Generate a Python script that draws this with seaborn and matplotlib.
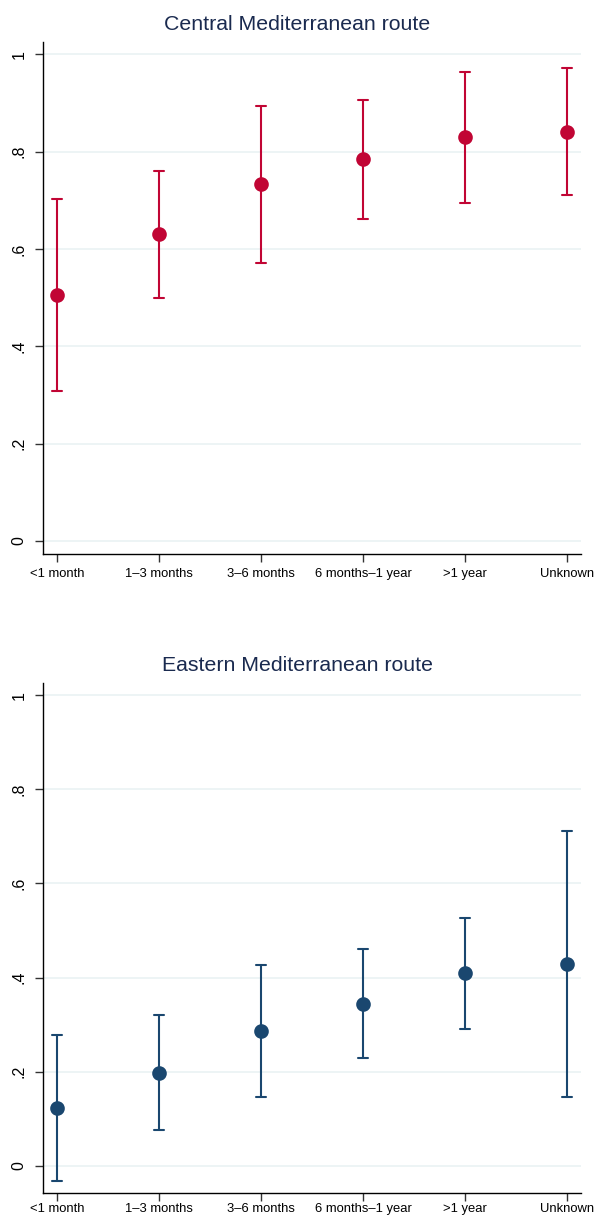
import numpy as np
import pandas as pd
import matplotlib
matplotlib.use("Agg")
import matplotlib.pyplot as plt
import seaborn as sns

categories = ["<1 month", "1–3 months", "3–6 months", "6 months–1 year", ">1 year", "Unknown"]

central_est = [0.505, 0.631, 0.733, 0.784, 0.829, 0.841]
central_lo = [0.307, 0.500, 0.571, 0.661, 0.695, 0.710]
central_hi = [0.702, 0.760, 0.894, 0.906, 0.963, 0.972]

eastern_est = [0.123, 0.198, 0.286, 0.344, 0.409, 0.428]
eastern_lo = [-0.033, 0.075, 0.145, 0.228, 0.290, 0.146]
eastern_hi = [0.278, 0.320, 0.427, 0.461, 0.527, 0.711]

yticks = [0, 0.2, 0.4, 0.6, 0.8, 1.0]
ytick_labels = ["0", ".2", ".4", ".6", ".8", "1"]

sns.set_style("white")
plt.rcParams['font.family'] = ['Liberation Sans', 'DejaVu Sans']

fig = plt.figure(figsize=(5.95, 12.16), dpi=100)
ax1 = fig.add_axes([43/595, 1-554/1216, (581-43)/595, (554-42)/1216])
ax2 = fig.add_axes([43/595, 1-1193/1216, (581-43)/595, (1193-683)/1216])

def long_df(est, lo, hi):
    rows = []
    for c, e, l, h in zip(categories, est, lo, hi):
        for v in (l, e, h):
            rows.append({"cat": c, "val": v})
    return pd.DataFrame(rows)

title_color = "#1a2a4f"
grid_color = "#eaf2f3"

panels = [
    (ax1, central_est, central_lo, central_hi, "#c10534", "Central Mediterranean route", (-0.027, 1.025), 4.5),
    (ax2, eastern_est, eastern_lo, eastern_hi, "#1a476f", "Eastern Mediterranean route", (-0.058, 1.026), 1.5),
]

for ax, est, lo, hi, color, title, ylim, xpad in panels:
    df = long_df(est, lo, hi)
    for t in yticks:
        ax.axhline(t, color=grid_color, lw=1.2, zorder=0)
    sns.pointplot(data=df, x="cat", y="val", order=categories,
                  estimator=np.median, errorbar=("pi", 100),
                  color=color, linestyle="none", markers="o",
                  markersize=8.5, capsize=0.1, err_kws={"linewidth": 1.5},
                  ax=ax)
    ax.set_xlim(-0.137, 5.137)
    ax.set_ylim(*ylim)
    ax.set_yticks(yticks)
    ax.set_yticklabels(ytick_labels, rotation=90, va="center", fontsize=11.5)
    ax.set_xticks(range(len(categories)))
    ax.set_xticklabels(categories, fontsize=9.4)
    ax.set_xlabel("")
    ax.set_ylabel("")
    ax.set_title(title, fontsize=15.3, color=title_color, pad=8.5, x=0.473)
    for s in ["top", "right"]:
        ax.spines[s].set_visible(False)
    for s in ["left", "bottom"]:
        ax.spines[s].set_color("black")
        ax.spines[s].set_linewidth(1.0)
    ax.tick_params(axis="both", which="both", direction="out", width=1.0,
                   color="#333333", bottom=True, left=True, labelcolor="black")
    ax.tick_params(axis="x", length=5.5, pad=xpad)
    ax.tick_params(axis="y", length=6, pad=6)
    ax.grid(False)

fig.savefig("out.png", dpi=100, facecolor="white")
